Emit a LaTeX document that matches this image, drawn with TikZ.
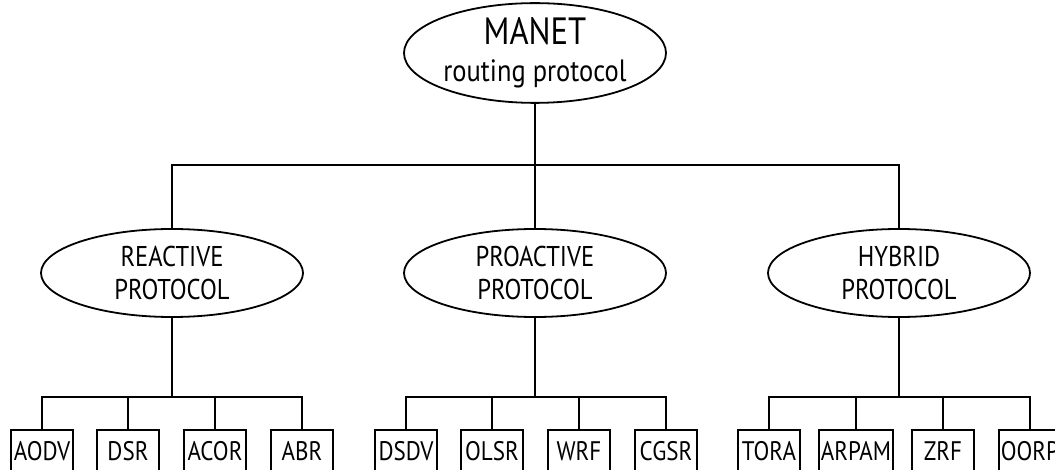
\documentclass[tikz,border=0pt]{standalone}
\usepackage{fontspec}
\setmainfont[FakeStretch=0.86]{PT Sans}
\usetikzlibrary{shapes.geometric}
\begin{document}
\begin{tikzpicture}[x=0.5pt,y=-0.5pt,line width=0.9pt,
        cat/.style={draw,ellipse,inner sep=0pt,minimum width=131pt,minimum height=44pt,align=center,font=\fontsize{14.3}{16.5}\selectfont},
        leaf/.style={draw,rectangle,inner sep=1pt,minimum width=31pt,minimum height=21pt,font=\fontsize{13.4}{14}\selectfont}]
    \useasboundingbox (0,0) rectangle (1055,470);
    \clip (0,0) rectangle (1055,470);
    \node [cat,font=\fontsize{15.4}{18.5}\selectfont] (manet) at (535,53) {{\fontsize{19}{18.5}\selectfont MANET}\\routing protocol};
    \node [cat] (reac) at (172,273) {REACTIVE\\PROTOCOL};
    \node [cat] (proa) at (535,273) {PROACTIVE\\PROTOCOL};
    \node [cat] (hybr) at (899,273) {HYBRID\\PROTOCOL};
    \coordinate (top) at (535,165);
    \draw (manet.south) -- (top);
    \draw (reac.north) |- (top) -| (hybr.north);
    \draw (top) -- (proa.north);
    \coordinate (rj) at (172,397);
    \coordinate (pj) at (535,397);
    \coordinate (hj) at (899,397);
    \draw (reac.south) -- (rj);
    \draw (proa.south) -- (pj);
    \draw (hybr.south) -- (hj);
    \node [leaf] (aodv) at (42,451) {AODV};
    \node [leaf] (dsr) at (128,451) {DSR};
    \node [leaf] (acor) at (215,451) {ACOR};
    \node [leaf] (abr) at (302,451) {ABR};
    \node [leaf] (dsdv) at (406,451) {DSDV};
    \node [leaf] (olsr) at (492,451) {OLSR};
    \node [leaf] (wrf) at (579,451) {WRF};
    \node [leaf] (cgsr) at (666,451) {CGSR};
    \node [leaf] (tora) at (769,451) {TORA};
    \node [leaf] (arpam) at (856,451) {ARPAM};
    \node [leaf] (zrf) at (943,451) {ZRF};
    \node [leaf] (oorp) at (1030,451) {OORP};
    \draw (aodv.north) |- (rj) -| (abr.north);
    \draw (dsdv.north) |- (pj) -| (cgsr.north);
    \draw (tora.north) |- (hj) -| (oorp.north);
    \foreach \n in {dsr,acor,olsr,wrf,arpam,zrf}
        \draw (\n.north) -- (\n.north |- rj);
\end{tikzpicture}
\end{document}
